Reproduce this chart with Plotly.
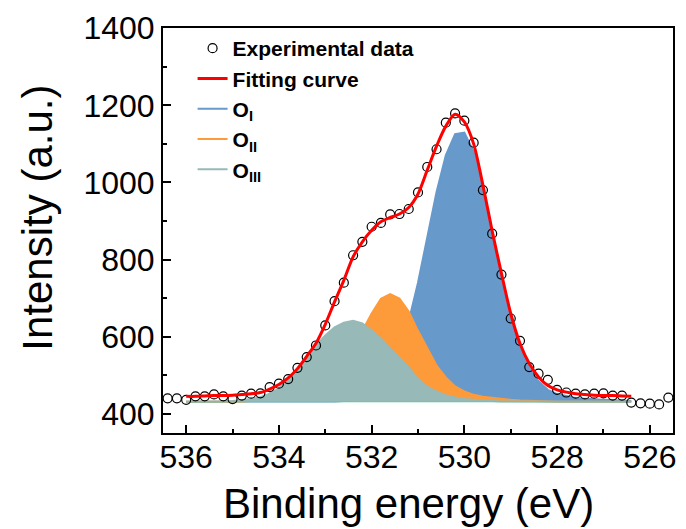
import plotly.graph_objects as go

# ---------------- data ----------------
exp_x = [536.4, 536.2, 536.0, 535.8, 535.6, 535.4, 535.2, 535.0, 534.8, 534.6,
         534.4, 534.2, 534.0, 533.8, 533.6, 533.4, 533.2, 533.0, 532.8, 532.6,
         532.4, 532.2, 532.0, 531.8, 531.6, 531.4, 531.2, 531.0, 530.8, 530.6,
         530.4, 530.2, 530.0, 529.8, 529.6, 529.4, 529.2, 529.0, 528.8, 528.6,
         528.4, 528.2, 528.0, 527.8, 527.6, 527.4, 527.2, 527.0, 526.8, 526.6,
         526.4, 526.2, 526.0, 525.8, 525.6]
exp_y = [440, 440, 436, 445, 445, 450, 445, 438, 447, 452,
         453, 469, 478, 490, 519, 547, 577, 629, 692, 740,
         811, 846, 885, 895, 917, 918, 931, 974, 1040, 1086,
         1155, 1179, 1160, 1103, 980, 867, 761, 647, 589, 521,
         504, 488, 462, 455, 452, 450, 452, 453, 447, 447,
         429, 427, 426, 424, 442]

fit_x = [536.0, 535.8, 535.6, 535.4, 535.2, 535.0, 534.8, 534.6, 534.4, 534.2,
         534.0, 533.8, 533.6, 533.4, 533.2, 533.0, 532.8, 532.6, 532.4, 532.2,
         532.0, 531.8, 531.6, 531.4, 531.2, 531.0, 530.8, 530.6, 530.4, 530.2,
         530.0, 529.8, 529.6, 529.4, 529.2, 529.0, 528.8, 528.6, 528.4, 528.2,
         528.0, 527.8, 527.6, 527.4, 527.2, 527.0, 526.8, 526.6, 526.4]
fit_y = [445, 445, 446, 447, 447, 448, 450, 452, 455, 464,
         476, 493, 517, 549, 583, 632, 690, 746, 807, 846,
         876, 898, 909, 918, 935, 970, 1032, 1094, 1146, 1177,
         1157, 1100, 993, 874, 764, 660, 582, 530, 495, 473,
         462, 456, 452, 450, 448, 447, 447, 446, 445]
o1_y = [431, 431, 431, 431, 431, 431, 431, 431, 431, 431,
        431, 431, 431, 431, 431, 431, 432, 433, 435, 440,
        449, 468, 500, 555, 640, 740, 855, 975, 1070, 1125,
        1129, 1080, 985, 866, 757, 652, 572, 518, 484, 462,
        451, 445, 441, 439, 437, 436, 435, 434, 433]
o2_y = [431, 431, 431, 431, 431, 432, 432, 433, 434, 436,
        438, 441, 444, 449, 458, 471, 494, 525, 569, 612,
        660, 698, 710, 699, 665, 615, 569, 525, 494, 471,
        458, 449, 444, 441, 438, 436, 434, 433, 432, 432,
        431, 431, 431, 431, 431, 431, 431, 431, 431]
o3_y = [431, 431, 432, 432, 432, 433, 435, 438, 443, 452,
        466, 488, 515, 546, 577, 603, 624, 636, 641, 634,
        616, 595, 570, 545, 520, 490, 470, 457, 448, 442,
        438, 436, 434, 433, 432, 432, 432, 431, 431, 431,
        431, 431, 431, 431, 431, 431, 431, 431, 431]
base_y = [431, 431, 431, 431, 431, 431, 431, 431, 431, 431,
          431, 431, 431, 431, 431, 431, 431, 431, 431, 431,
          431, 431, 431, 431, 431, 431, 431, 431, 431, 431,
          431, 431, 431, 431, 431, 431, 431, 431, 431, 431,
          431, 431, 431, 431, 431, 431, 431, 431, 431]

x_ticks = [536, 534, 532, 530, 528, 526]
x_minor = [535, 533, 531, 529, 527]
y_ticks = [400, 600, 800, 1000, 1200, 1400]
y_minor = [500, 700, 900, 1100, 1300]

names = ["<b>Experimental data</b>", "<b>Fitting curve</b>",
         "<b>O<sub>I</sub></b>", "<b>O<sub>II</sub></b>", "<b>O<sub>III</sub></b>"]

# ---------------- figure ----------------
fig = go.Figure()

peaks = [(o1_y, "#6799CB", names[2], 3),
         (o2_y, "#FD9A3A", names[3], 4),
         (o3_y, "#97B9B8", names[4], 5)]
for py, col, nm, rank in peaks:
    fig.add_trace(go.Scatter(
        x=fit_x + fit_x[::-1], y=py + base_y[::-1], fill="toself",
        fillcolor=col, mode="lines", line=dict(width=0, color=col),
        showlegend=False, hoverinfo="skip"))
    fig.add_trace(go.Scatter(
        x=fit_x, y=py, mode="lines", line=dict(color=col, width=2),
        name=nm, legendrank=rank))

fig.add_trace(go.Scatter(x=fit_x, y=base_y, mode="lines",
                         line=dict(color="#66CC99", width=1), showlegend=False))

fig.add_trace(go.Scatter(
    x=exp_x, y=exp_y, mode="markers", name=names[0], legendrank=1,
    marker=dict(symbol="circle-open", size=9, color="black",
                line=dict(width=1.2, color="black"))))
fig.add_trace(go.Scatter(
    x=fit_x, y=fit_y, mode="lines", name=names[1], legendrank=2,
    line=dict(color="#FF0000", width=3, shape="spline", smoothing=0.8)))

axis_common = dict(showline=True, linewidth=2, linecolor="black", mirror=True,
                   showgrid=False, zeroline=False, ticks="inside", ticklen=8,
                   tickwidth=2, tickcolor="black",
                   tickfont=dict(size=32, color="black",
                                 family="Liberation Sans, Arial"))

fig.update_xaxes(range=[536.5, 525.5], tickmode="array", tickvals=x_ticks,
                 ticktext=[str(v) for v in x_ticks], ticklabelstandoff=-5,
                 minor=dict(tickmode="array", tickvals=x_minor, ticks="inside",
                            ticklen=4, tickwidth=2, tickcolor="black",
                            showgrid=False),
                 **axis_common)
fig.update_yaxes(range=[350, 1400.5], tickmode="array", tickvals=y_ticks,
                 ticktext=[str(v) for v in y_ticks],
                 minor=dict(tickmode="array", tickvals=y_minor, ticks="inside",
                            ticklen=4, tickwidth=2, tickcolor="black",
                            showgrid=False),
                 **axis_common)

fig.add_annotation(text="Binding energy (eV)", xref="paper", yref="paper",
                   x=0.4815, y=-0.175, xanchor="center", yanchor="middle",
                   showarrow=False,
                   font=dict(size=42, color="black", family="Liberation Sans, Arial"))
fig.add_annotation(text="Intensity (a.u.)", xref="paper", yref="paper",
                   x=-0.2456, y=0.531, xanchor="center", yanchor="middle",
                   textangle=-90, showarrow=False,
                   font=dict(size=42, color="black", family="Liberation Sans, Arial"))

fig.update_layout(
    width=686, height=529,
    margin=dict(l=163, r=10, t=28, b=96),
    plot_bgcolor="white", paper_bgcolor="white",
    font=dict(family="Liberation Sans, Arial", color="black"),
    legend=dict(x=0.058, y=1.0, xanchor="left", yanchor="top",
                bgcolor="rgba(0,0,0,0)", borderwidth=0,
                font=dict(size=21, color="black", family="Liberation Sans, Arial"),
                tracegroupgap=0),
)

fig.write_html("out.html")
